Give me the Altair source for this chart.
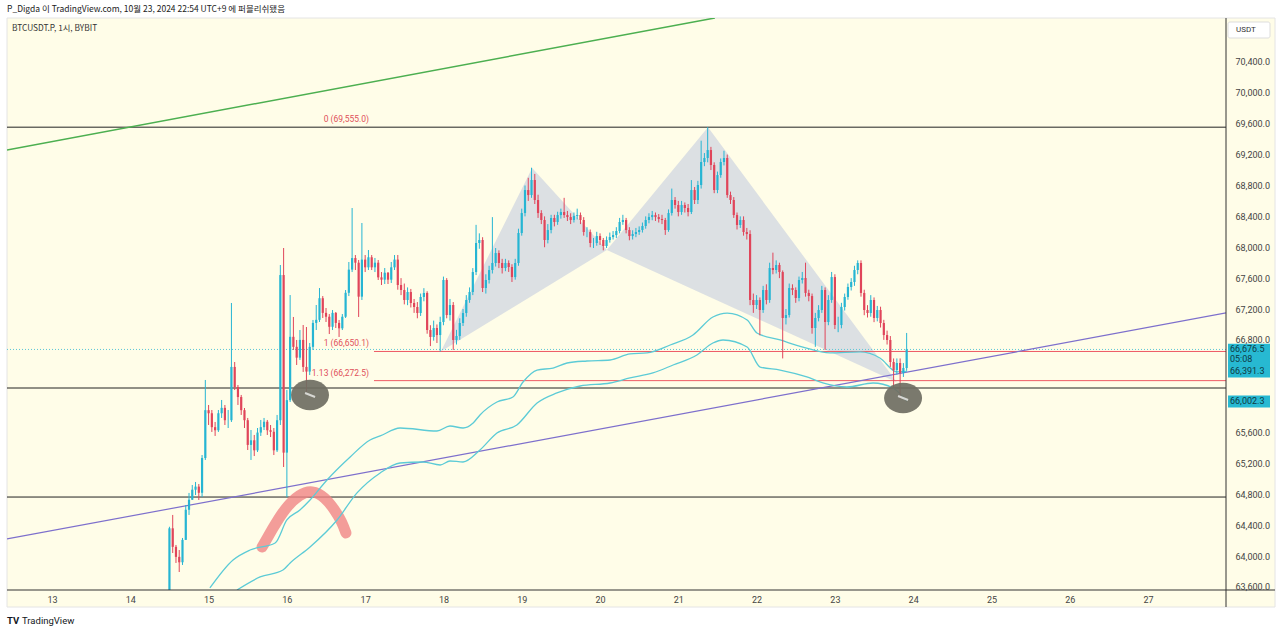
import altair as alt
import pandas as pd
import numpy as np

# ---------------- data (hour index: 0 = Oct 14 00:00) ----------------
FIRST_HOUR = 12
FIRST_OPEN = 63450
closes = [
    64360, 64120, 63990, 63920, 64210, 64600, 64730, 64860, 64900, 64820,
    65270, 65890, 65850, 65670, 65630, 65850, 65920, 65760, 65760, 66450,
    66190, 66060, 65890, 65760, 65440, 65500, 65370, 65600, 65670, 65740,
    65630, 65610, 65370, 65760, 67640, 65340, 66020, 66840, 66710, 66570,
    66800, 66450, 66390, 66710, 67020, 67060, 67340, 67150, 67100, 66970,
    67150, 67020, 66950, 67100, 67410, 67710, 67860, 67800, 67360, 67840,
    67740, 67870, 67740, 67800, 67610, 67580, 67670, 67580, 67740, 67840,
    67511, 67446, 67317, 67420, 67278, 67226, 67148, 67356, 67408, 66928,
    66838, 66954, 66863, 67032, 67576, 67122, 67252, 66799, 66850, 67019,
    67148, 67317, 67420, 67679, 68055, 68094, 67472, 67576, 67705, 67796,
    67925, 67796, 67731, 67796, 67744, 67614, 67796, 68184, 68443, 68741,
    68676, 68871, 68612, 68443, 68353, 68094, 68223, 68379, 68327, 68417,
    68456, 68417, 68391, 68353, 68404, 68417, 68353, 68197, 68197, 68055,
    68055, 68145, 68094, 68016, 68094, 68132, 68158, 68210, 68327, 68353,
    68223, 68145, 68171, 68197, 68223, 68275, 68353, 68391, 68417, 68391,
    68366, 68353, 68223, 68443, 68612, 68547, 68456, 68547, 68508, 68456,
    68741, 68612,
    68806, 69104, 69156, 69259, 69065, 68741, 68935, 69104, 69156, 68676,
    68612, 68417, 68288, 68353, 68197, 68171, 67317, 67252, 67317, 67187,
    67446, 67317, 67731, 67705, 67770, 67679, 67084, 67122, 67472, 67446,
    67343, 67576, 67602, 67408, 67368, 66954, 67084, 67187, 67446, 67032,
    67317, 67614, 66993, 66993, 67226, 67356, 67485, 67550, 67705, 67796,
    67408, 67187, 67148, 67317, 67084, 67187, 67019, 66863, 66799, 66514,
    66410, 66501, 66371, 66436, 66676.5,
]
highs = [
    64380, 64533, 64144, 64079, 64235, 64662, 64818, 64921, 64960, 64934,
    65309, 66281, 65957, 65892, 65737, 65892, 66022, 65957, 65892, 67278,
    66514, 66216, 66087, 65918, 65789, 65633, 65569, 65659, 65763, 65789,
    65763, 65698, 65659, 65828, 67770, 67990, 66151, 67381, 67097, 66799,
    66928, 66993, 66967, 66760, 67058, 67252, 67472, 67368, 67213, 67135,
    67187, 67161, 67058, 67135, 67446, 67809, 68508, 67899, 67835, 68314,
    67899, 67964, 67899, 67861, 67835, 67679, 67731, 67679, 67809, 67899,
    67900, 67600, 67530, 67480, 67460, 67330, 67290, 67400, 67470, 67430,
    66990, 67050, 67000, 67100, 67620, 67600, 67330, 67290, 66930, 67080,
    67200, 67380, 67480, 67730, 68290, 68180, 68130, 67650, 67760, 68390,
    67990, 67960, 67850, 67850, 67830, 67780, 67850, 68240, 68500, 68800,
    68900, 69030, 68950, 68680, 68480, 68400, 68300, 68420, 68420, 68460,
    68500, 68640, 68470, 68440, 68450, 68500, 68450, 68390, 68260, 68230,
    68120, 68200, 68180, 68120, 68140, 68190, 68210, 68260, 68380, 68420,
    68380, 68260, 68220, 68250, 68270, 68320, 68400, 68440, 68470, 68450,
    68430, 68420, 68380, 68490, 68760, 68650, 68600, 68600, 68580, 68560,
    68870, 68780,
    68860, 69380, 69220, 69555, 69300, 69100, 68980, 69150, 69250, 69200,
    68720, 68650, 68450, 68400, 68400, 68250, 68220, 67400, 67380, 67350,
    67500, 67520, 67800, 67930, 67830, 67800, 67700, 67200, 67530, 67520,
    67480, 67620, 67680, 67800, 67450, 67400, 67150, 67250, 67500, 67480,
    67380, 67680, 67650, 67100, 67280, 67400, 67530, 67600, 67760, 67830,
    67830, 67450, 67250, 67380, 67350, 67240, 67230, 67060, 66920, 66850,
    66560, 66560, 66560, 66500, 66890,
]
lows = [
    63400, 64040, 63911, 63794, 63885, 64209, 64533, 64727, 64791, 64727,
    64765, 65245, 65698, 65608, 65556, 65608, 65789, 65698, 65659, 65737,
    66151, 65957, 65828, 65659, 65374, 65245, 65296, 65348, 65556, 65633,
    65569, 65542, 65309, 65348, 65698, 65154, 64765, 65996, 66669, 66475,
    66540, 66385, 66125, 66345, 66669, 66928, 67032, 67084, 67032, 66876,
    66928, 66954, 66838, 66928, 67084, 67368, 67679, 67705, 67097, 67317,
    67679, 67705, 67705, 67679, 67576, 67511, 67524, 67524, 67537, 67705,
    67450, 67380, 67260, 67250, 67220, 67150, 67080, 67110, 67300, 66880,
    66720, 66790, 66760, 66650, 66990, 67080, 67050, 66670, 66740, 66800,
    66980, 67100, 67280, 67380, 67640, 67980, 67420, 67400, 67530, 67660,
    67750, 67730, 67660, 67690, 67680, 67550, 67580, 67760, 68150, 68400,
    68600, 68640, 68560, 68380, 68300, 68000, 68050, 68180, 68270, 68290,
    68370, 68380, 68340, 68300, 68320, 68360, 68300, 68150, 68130, 68000,
    67990, 68020, 68030, 67960, 67990, 68060, 68100, 68120, 68180, 68290,
    68180, 68090, 68100, 68130, 68160, 68190, 68240, 68310, 68350, 68340,
    68320, 68300, 68160, 68200, 68410, 68500, 68400, 68420, 68450, 68400,
    68430, 68560,
    68560, 68760, 69050, 69100, 69000, 68700, 68700, 68900, 69060, 68640,
    68560, 68380, 68230, 68250, 68150, 68100, 67250, 67150, 67200, 66860,
    67150, 67260, 67280, 67650, 67660, 67600, 66560, 67000, 67090, 67380,
    67280, 67300, 67530, 67360, 67300, 66880, 66710, 67040, 67150, 66670,
    66990, 67280, 66940, 66900, 66950, 67180, 67320, 67440, 67500, 67650,
    67360, 67120, 67090, 67100, 67030, 67040, 66960, 66800, 66740, 66450,
    66180, 66350, 66040, 66320, 66400,
]

# indicator curves (hour, price)
upper_t = [24.4, 31.5, 36.7, 44.4, 48.0, 52.0, 55.1, 60.3, 67.4, 73.5, 76.6, 82.7, 94.0, 98.0,
           102.0, 105.1, 107.2, 112.4, 117.3, 120.4, 124.7, 129.6, 133.9, 140.0, 147.1, 153.2,
           158.4, 165.5, 172.5, 178.6, 183.0, 189.1, 192.1, 199.2, 206.2, 214.5, 223.7, 229.8,
           235.0, 238.1]
upper_p = [63587, 63950, 64079, 64170, 64468, 64597, 64727, 64986, 65284, 65504, 65556, 65659,
           65620, 65685, 65659, 65724, 65828, 65996, 66061, 66255, 66410, 66436, 66501, 66527,
           66540, 66618, 66631, 66734, 66864, 67097, 67148, 67058, 66890, 66799, 66708, 66631,
           66644, 66566, 66385, 66391.3]
lower_t = [32.7, 39.8, 46.8, 49.0, 55.1, 63.4, 69.5, 76.6, 82.7, 89.7, 95.0, 98.0, 102.0, 107.2,
           112.4, 118.5, 124.7, 130.8, 137.9, 147.1, 153.2, 160.2, 166.4, 173.7, 178.6, 181.7,
           189.1, 193.1, 199.2, 207.4, 212.3, 219.7, 227.7, 233.8, 238.1]
lower_p = [63561, 63730, 63820, 63911, 64118, 64468, 64818, 65077, 65206, 65219, 65180, 65232,
           65219, 65374, 65595, 65698, 65983, 66113, 66203, 66242, 66307, 66372, 66475, 66605,
           66760, 66799, 66708, 66449, 66410, 66320, 66242, 66190, 66242, 66177, 66002.3]

# harmonic pattern points X, A, B, C, D
pat_t = [95.2, 123.2, 146.1, 177.1, 235.0]
pat_p = [66650.1, 69026, 67964, 69555.0, 66250]

# drawings
h_levels = [69555.0, 66177, 64765]
fib_levels = [69555.0, 66650.1, 66272.5]
fib_labels = ["0 (69,555.0)", "1 (66,650.1)", "1.13 (66,272.5)"]
fib_start = 74.7
green_t, green_p = [-37.8, 179.2], [69259, 70969]
purple_t, purple_p = [-37.8, 335.9], [64222, 67149]
arc_t = [40.4, 43.4, 47.4, 52.0, 55.7, 59.7, 62.7, 64.9, 66.1]
arc_p = [64118, 64339, 64623, 64805, 64856, 64765, 64597, 64442, 64300]
marks_t = [55.1, 236.9]
marks_p = [66087, 66048]
last_price = 66676.5
axis_boxes_p = [66676.5, 66391.3, 66002.3]
axis_boxes_txt = ["66,676.5", "66,391.3", "66,002.3"]

day_ticks = list(range(-24, 313, 24))
price_ticks = [63600, 64000, 64400, 64800, 65200, 65600, 66800, 67200, 67600,
               68000, 68400, 68800, 69200, 69600, 70000, 70400]

# ---------------- chart ----------------
X0, X1 = -37.8, 335.9
Y0, Y1 = 63561, 70969
W, H = 1219, 572
UP, DOWN = "#26b5d3", "#e0455a"
FONT = "Roboto"

xs = alt.Scale(domain=[X0, X1], nice=False, zero=False, padding=0)
ys = alt.Scale(domain=[Y0, Y1], nice=False, zero=False, padding=0)
xax = alt.Axis(values=day_ticks, labelExpr="format(14 + datum.value/24, 'd')", domain=False,
               ticks=False, grid=False, labelFontSize=9, labelColor="#444", labelPadding=5,
               labelFont=FONT, zindex=1, labelOverlap=False, labelFlush=False, title=None)
yax = alt.Axis(orient="right", values=price_ticks, format=",.1f", domain=False, ticks=False,
               grid=False, labelFontSize=9, labelColor="#444", labelPadding=9, labelFont=FONT,
               zindex=1, labelOverlap=False, labelFlush=False, title=None)


def X(f):
    return alt.X(f, type="quantitative", scale=xs, axis=xax, title=None)


def Y(f):
    return alt.Y(f, type="quantitative", scale=ys, axis=yax, title=None)


one = pd.DataFrame({"a": [0]})

opens = [FIRST_OPEN] + closes[:-1]
n = len(closes)
candles = pd.DataFrame({
    "t": list(range(FIRST_HOUR, FIRST_HOUR + n)),
    "o": opens, "c": closes, "h": highs, "l": lows,
})
candles["dir"] = np.where(candles["c"] >= candles["o"], "up", "down")
col = alt.Color("dir:N", scale=alt.Scale(domain=["up", "down"], range=[UP, DOWN]), legend=None)

panel = alt.Chart(one).mark_rect(fill="#fffde8", stroke="#e4e4e4", strokeWidth=1).encode(
    x=alt.value(0), x2=alt.value(1268), y=alt.value(0), y2=alt.value(589))

# pattern shading as two triangles
tri_rows = []
for k, (i0, i1, i2) in enumerate([(0, 1, 2), (2, 3, 4)]):
    base = np.interp(pat_t[i1], [pat_t[i0], pat_t[i2]], [pat_p[i0], pat_p[i2]])
    tri_rows += [
        {"tri": k, "t": pat_t[i0], "p": pat_p[i0], "p2": pat_p[i0]},
        {"tri": k, "t": pat_t[i1], "p": pat_p[i1], "p2": float(base)},
        {"tri": k, "t": pat_t[i2], "p": pat_p[i2], "p2": pat_p[i2]},
    ]
shade = alt.Chart(pd.DataFrame(tri_rows)).mark_area(color="#c4cde0", opacity=0.6, clip=True).encode(
    x=X("t"), y=Y("p"), y2="p2", detail="tri:N")

hlines = alt.Chart(pd.DataFrame({"p": h_levels})).mark_rule(color="#222", strokeWidth=1).encode(y=Y("p"))

fib = alt.Chart(pd.DataFrame({"p": fib_levels[1:], "s": fib_start, "e": X1})).mark_rule(
    color="#ee5a64", strokeWidth=1).encode(x=X("s"), x2="e", y=Y("p"))
fib_txt = alt.Chart(pd.DataFrame({"p": fib_levels, "s": fib_start, "txt": fib_labels})).mark_text(
    align="right", baseline="bottom", dx=-5, dy=-3, fontSize=8.5, font=FONT, color="#e0505a").encode(
    x=X("s"), y=Y("p"), text="txt:N")

lastline = alt.Chart(pd.DataFrame({"p": [last_price]})).mark_rule(
    color="#5cc6d6", strokeWidth=1, strokeDash=[1, 2]).encode(y=Y("p"))

green = alt.Chart(pd.DataFrame({"t": green_t, "p": green_p})).mark_line(
    color="#4caf50", strokeWidth=1.5, clip=True).encode(x=X("t"), y=Y("p"))
purple = alt.Chart(pd.DataFrame({"t": purple_t, "p": purple_p})).mark_line(
    color="#7d6fcc", strokeWidth=1.2, clip=True).encode(x=X("t"), y=Y("p"))

arc = alt.Chart(pd.DataFrame({"t": arc_t, "p": arc_p})).mark_line(
    color="#f08585", opacity=0.8, strokeWidth=11, strokeCap="round", interpolate="basis",
    clip=True).encode(x=X("t"), y=Y("p"))

curves = pd.concat([
    pd.DataFrame({"s": "u", "t": upper_t, "p": upper_p}),
    pd.DataFrame({"s": "l", "t": lower_t, "p": lower_p}),
])
bands = alt.Chart(curves).mark_line(color="#5ccbd6", strokeWidth=1.3, interpolate="monotone",
                                    clip=True).encode(x=X("t"), y=Y("p"), detail="s:N")

wicks = alt.Chart(candles).mark_rule(strokeWidth=1, clip=True).encode(
    x=X("t"), y=Y("l"), y2="h", color=col)
bodies = alt.Chart(candles).mark_bar(size=2.2, clip=True).encode(
    x=X("t"), y=Y("o"), y2="c", color=col)

ell = "M -1 0 A 1 0.8 0 1 0 1 0 A 1 0.8 0 1 0 -1 0 Z"
circles = alt.Chart(pd.DataFrame({"t": marks_t, "p": marks_p})).mark_point(
    shape=ell, size=1444, filled=True, color="#6f6e62", opacity=0.92).encode(x=X("t"), y=Y("p"))
squig = alt.Chart(pd.DataFrame({"t": marks_t, "p": marks_p})).mark_point(
    shape="M -1 -0.4 L 1 0.4", size=100, filled=False, color="white", strokeWidth=2).encode(
    x=X("t"), y=Y("p"))

# frame lines of the price / time scales
bottom_line = alt.Chart(one).mark_rule(color="#333", strokeWidth=1).encode(
    x=alt.value(0), x2=alt.value(1268), y=alt.value(H))
right_line = alt.Chart(one).mark_rule(color="#333", strokeWidth=1).encode(
    x=alt.value(W), y=alt.value(0), y2=alt.value(589))

# price boxes on the scale
box1 = alt.Chart(pd.DataFrame({"p": axis_boxes_p[:1]})).mark_point(
    shape="M -1 -0.27 L 1 -0.27 L 1 0.79 L -1 0.79 Z", size=1764, filled=True, opacity=1,
    color="#27b9d2").encode(x=alt.value(1242), y=Y("p"))
box2 = alt.Chart(pd.DataFrame({"p": axis_boxes_p[1:]})).mark_point(
    shape="M -1 -0.29 L 1 -0.29 L 1 0.29 L -1 0.29 Z", size=1764, filled=True, opacity=1,
    color="#27b9d2").encode(x=alt.value(1242), y=Y("p"))
box_txt = alt.Chart(pd.DataFrame({"p": axis_boxes_p, "txt": axis_boxes_txt})).mark_text(
    align="left", baseline="middle", fontSize=9, font=FONT, color="#0e3a44").encode(
    x=alt.value(1223), y=Y("p"), text="txt:N")
countdown = alt.Chart(pd.DataFrame({"p": [last_price], "txt": ["05:08"]})).mark_text(
    align="left", baseline="middle", fontSize=9, font=FONT, color="#0e3a44", dy=10).encode(
    x=alt.value(1223), y=Y("p"), text="txt:N")

usdt_box = alt.Chart(one).mark_rect(fill="white", stroke="#dddddd", strokeWidth=1,
                                    cornerRadius=2).encode(
    x=alt.value(1221), x2=alt.value(1263), y=alt.value(4), y2=alt.value(20))
usdt_txt = alt.Chart(one).mark_text(text="USDT", fontSize=8, font=FONT, color="#333",
                                    align="left", baseline="middle").encode(
    x=alt.value(1229), y=alt.value(12))

header = alt.Chart(one).mark_text(
    text="P_Digda 이 TradingView.com, 10월 23, 2024 22:54 UTC+9 에 퍼블리쉬됐음",
    fontSize=8.5, font="Noto Sans CJK KR", color="#222", align="left", baseline="middle").encode(
    x=alt.value(0), y=alt.value(-9))
symbol = alt.Chart(one).mark_text(
    text="BTCUSDT.P, 1시, BYBIT", fontSize=8.3, font="Noto Sans CJK KR", color="#333",
    align="left", baseline="middle").encode(x=alt.value(5), y=alt.value(11))
logo = alt.Chart(one).mark_text(
    text="TV", fontSize=9.5, font=FONT, fontWeight="bold", color="#131722",
    align="left", baseline="middle").encode(x=alt.value(0), y=alt.value(603))
footer = alt.Chart(one).mark_text(
    text="TradingView", fontSize=9.5, font=FONT, color="#131722",
    align="left", baseline="middle").encode(x=alt.value(15), y=alt.value(603))

chart = alt.layer(
    panel, shade, hlines, fib, lastline, green, purple, arc, bands, wicks, bodies,
    circles, squig, fib_txt, bottom_line, right_line, box1, box2, box_txt, countdown,
    usdt_box, usdt_txt, header, symbol, logo, footer,
).properties(
    width=W, height=H,
    autosize=alt.AutoSizeParams(type="none"),
    padding={"left": 7, "top": 18, "right": 54, "bottom": 44},
    background="white",
).configure_view(stroke=None, fill=None)

chart.save("out.html", embed_options={"renderer": "svg", "actions": False})
